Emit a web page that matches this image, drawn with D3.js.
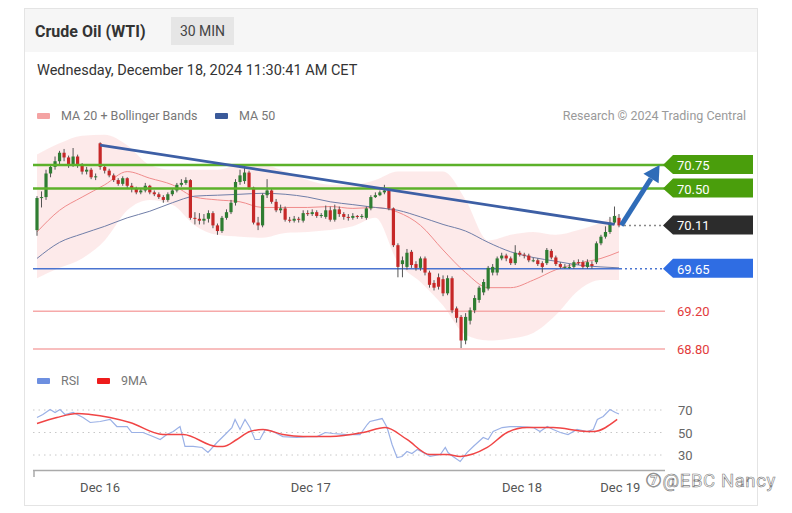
<!DOCTYPE html>
<html>
<head>
    <title>Crude Oil (WTI) 30 MIN</title>
    <script src="https://cdn.jsdelivr.net/npm/d3@7"></script>
    <style>
        body { margin: 0; background: #fff; font-family: Roboto, 'Liberation Sans', Arial, sans-serif; }
        svg { display: block; }
    </style>
</head>
<body>
    <svg width="792" height="513" id="mainsvg"></svg>
    <script>
        // candles [open, high, low, close], 30 min bars
        const candles = [
            [70.06,70.42,70.00,70.40],[70.40,70.47,70.30,70.41],[70.41,70.70,70.38,70.66],[70.66,70.76,70.62,70.73],
            [70.73,70.84,70.70,70.79],[70.79,70.90,70.76,70.88],[70.88,70.92,70.79,70.83],[70.83,70.85,70.72,70.75],
            [70.75,70.93,70.73,70.84],[70.84,70.86,70.72,70.75],[70.75,70.77,70.65,70.68],[70.68,70.73,70.65,70.70],
            [70.70,70.72,70.60,70.62],[70.62,70.66,70.59,70.63],[70.98,70.99,70.70,70.73],[70.73,70.75,70.66,70.69],
            [70.69,70.71,70.62,70.64],[70.64,70.66,70.57,70.59],[70.59,70.61,70.53,70.55],[70.55,70.63,70.53,70.61],
            [70.61,70.62,70.50,70.53],[70.53,70.56,70.46,70.50],[70.50,70.52,70.44,70.46],[70.46,70.50,70.44,70.48],
            [70.48,70.56,70.46,70.53],[70.53,70.54,70.44,70.46],[70.46,70.48,70.42,70.44],[70.44,70.46,70.39,70.41],
            [70.41,70.43,70.35,70.38],[70.38,70.46,70.36,70.44],[70.44,70.50,70.42,70.48],[70.48,70.56,70.46,70.54],
            [70.54,70.60,70.52,70.56],[70.56,70.62,70.54,70.59],[70.59,70.60,70.17,70.19],[70.19,70.25,70.12,70.18],
            [70.18,70.24,70.12,70.16],[70.16,70.23,70.12,70.18],[70.18,70.27,70.14,70.24],[70.24,70.26,70.08,70.11],
            [70.11,70.13,70.01,70.05],[70.05,70.21,70.03,70.19],[70.19,70.28,70.17,70.25],[70.25,70.38,70.23,70.35],
            [70.35,70.60,70.32,70.57],[70.57,70.70,70.54,70.64],[70.58,70.74,70.55,70.67],[70.67,70.69,70.49,70.51],
            [70.51,70.52,70.12,70.14],[70.14,70.20,70.06,70.11],[70.11,70.45,70.09,70.43],[70.43,70.60,70.40,70.48],
            [70.48,70.50,70.34,70.36],[70.36,70.39,70.25,70.27],[70.27,70.33,70.24,70.29],[70.29,70.31,70.15,70.17],
            [70.17,70.20,70.14,70.16],[70.16,70.21,70.14,70.18],[70.18,70.20,70.14,70.17],[70.16,70.27,70.14,70.24],
            [70.24,70.27,70.21,70.23],[70.23,70.28,70.21,70.25],[70.25,70.27,70.19,70.21],[70.21,70.24,70.19,70.22],
            [70.20,70.32,70.18,70.27],[70.27,70.31,70.15,70.17],[70.17,70.33,70.15,70.28],[70.28,70.31,70.20,70.23],
            [70.23,70.25,70.17,70.20],[70.20,70.23,70.16,70.19],[70.19,70.24,70.17,70.21],[70.21,70.22,70.18,70.20],
            [70.20,70.23,70.18,70.21],[70.19,70.31,70.17,70.29],[70.29,70.43,70.27,70.41],[70.41,70.46,70.40,70.43],
            [70.43,70.48,70.42,70.46],[70.46,70.54,70.44,70.48],[70.48,70.49,70.27,70.29],[70.29,70.30,69.88,69.90],
            [69.90,69.92,69.56,69.67],[69.70,69.78,69.56,69.74],[69.67,69.86,69.64,69.82],[69.83,69.85,69.66,69.69],
            [69.70,69.73,69.63,69.66],[69.66,69.78,69.63,69.76],[69.76,69.78,69.58,69.61],[69.61,69.63,69.45,69.48],
            [69.50,69.53,69.42,69.45],[69.56,69.60,69.43,69.46],[69.54,69.58,69.36,69.39],[69.39,69.58,69.37,69.55],
            [69.55,69.57,69.18,69.21],[69.23,69.25,69.08,69.13],[69.14,69.16,68.81,68.89],[68.89,69.18,68.85,69.14],
            [69.10,69.24,69.06,69.21],[69.21,69.37,69.18,69.34],[69.32,69.47,69.29,69.45],[69.40,69.54,69.37,69.51],
            [69.44,69.68,69.42,69.66],[69.61,69.70,69.58,69.67],[69.61,69.78,69.58,69.76],[69.76,69.82,69.74,69.79],
            [69.79,69.81,69.73,69.76],[69.76,69.78,69.69,69.71],[69.71,69.90,69.69,69.82],[69.82,69.84,69.78,69.80],
            [69.80,69.82,69.76,69.79],[69.79,69.81,69.72,69.74],[69.74,69.77,69.72,69.74],[69.74,69.76,69.68,69.70],
            [69.71,69.73,69.61,69.67],[69.71,69.87,69.69,69.85],[69.84,69.86,69.75,69.77],[69.77,69.79,69.68,69.70],
            [69.70,69.72,69.65,69.67],[69.67,69.70,69.65,69.67],[69.67,69.70,69.65,69.67],[69.67,69.74,69.65,69.72],
            [69.72,69.75,69.69,69.71],[69.72,69.74,69.65,69.67],[69.67,69.75,69.65,69.72],[69.70,69.73,69.65,69.68],
            [69.72,69.94,69.70,69.92],[69.92,70.01,69.90,69.99],[69.99,70.10,69.97,70.04],[70.04,70.20,70.02,70.14],
            [70.14,70.31,70.12,70.21],[70.19,70.23,70.09,70.11]
        ];

        // indicators: [bar index, value]
        const ma20 = [[0,70.04],[5,70.27],[10,70.41],[15,70.54],[20,70.68],[25,70.61],[30,70.54],[35,70.41],[40,70.38],
            [45,70.36],[50,70.30],[55,70.30],[60,70.30],[65,70.31],[70,70.29],[75,70.30],[80,70.25],[85,70.11],
            [90,69.85],[95,69.61],[100,69.45],[105,69.45],[110,69.53],[115,69.64],[120,69.71],[125,69.76],[129,69.83]];
        const ma50 = [[0,69.76],[5,69.93],[10,70.02],[15,70.10],[20,70.19],[25,70.26],[30,70.35],[35,70.42],[40,70.43],
            [45,70.44],[50,70.45],[55,70.44],[60,70.41],[65,70.36],[70,70.33],[75,70.30],[80,70.27],[85,70.20],
            [90,70.12],[95,70.05],[100,69.93],[105,69.83],[110,69.77],[115,69.73],[120,69.69],[125,69.67],[129,69.66]];
        const bbUpper = [[0,70.86],[5,70.98],[10,71.06],[15,71.07],[20,70.96],[25,70.75],[30,70.70],[35,70.70],[40,70.70],
            [45,70.75],[50,70.75],[55,70.68],[60,70.59],[65,70.54],[70,70.54],[75,70.59],[80,70.68],[85,70.68],
            [90,70.68],[95,70.38],[100,69.95],[105,70.01],[110,70.04],[115,70.01],[120,70.06],[125,70.14],[129,70.23]];
        const bbLower = [[0,69.55],[5,69.66],[10,69.76],[15,69.95],[20,70.27],[25,70.38],[30,70.33],[35,70.11],[40,70.01],
            [45,69.99],[50,69.98],[55,70.03],[60,70.04],[65,70.06],[70,70.10],[75,70.19],[80,69.72],[85,69.51],
            [90,69.26],[95,68.95],[100,68.89],[105,68.91],[110,68.97],[115,69.16],[120,69.42],[125,69.53],[129,69.53]];

        const rsi = [[0,63.3],[1.3,66],[2.9,70.4],[4,67.8],[5.1,70.4],[6.2,66],[8,67.8],[10.2,63.3],[11.8,58.9],[14,59.8],
            [16.2,61.6],[17.7,55.3],[20,55.3],[21,50],[23.5,50],[25.7,46.4],[27.3,43.8],[28.8,48.2],[30.2,50.9],[31.7,55.3],
            [32.8,37.6],[34.6,37.6],[36.6,36.7],[37.9,32.2],[39.9,41.1],[41.7,48.2],[43.2,54.4],[43.9,61.6],[45,52.7],
            [46.1,61.6],[47.2,54.4],[48.3,43.8],[49.4,43.8],[50.6,52.7],[52.3,50.9],[54.5,46.4],[57.6,45.6],[59.9,46.4],
            [62.1,46.4],[63.9,50],[65.6,49.1],[68.7,48.2],[71.6,48.2],[73.2,57.1],[73.8,59.8],[76.5,62.4],[77.6,54.4],
            [78.7,39.3],[79.8,27.8],[80.9,28.7],[82,33.1],[83.1,31.3],[84.3,34.9],[85.6,32.2],[87.1,28.7],[89.4,30.4],
            [90.5,36.7],[91.1,32.2],[92.2,28.7],[93.8,24.2],[95.3,32.2],[96.7,37.6],[98.9,45.6],[100,43.8],[101.1,50.9],
            [103.1,54.4],[104.9,55.3],[107.1,55.3],[110,54.4],[111.5,50.9],[113.1,55.3],[114.4,52.7],[116,50],[117.7,48.2],
            [119.7,52.7],[121.9,50.9],[123.3,52.7],[124.2,61.6],[125.5,64.2],[127,70.4],[128.2,67.8],[129,66.5]];
        const rsiMA = [[0,58],[4.4,63.3],[8.9,66.9],[11.8,66],[20.6,58.9],[27.9,48.2],[32.4,48.2],[39.9,37.6],[41.2,37.6],
            [44.3,43.8],[47.2,50.9],[50.1,52.7],[54.5,48.2],[59,46.4],[65,46.4],[72.3,50],[77.2,54.4],[82,43.8],[87.1,30.4],
            [90.9,30.4],[93.8,28.7],[99.8,36.7],[104.2,50],[108.6,54.4],[114.4,54.4],[121.9,50.9],[123.3,50.9],[128.6,61.6]];

        // key levels
        const resistances = [70.75, 70.50];
        const pivot = 69.65;
        const supports = [69.20, 68.80];
        const lastPrice = 70.11;
        const trendLine = [[14, 70.96], [128, 70.12]];
        const arrowPath = [[129.5, 70.11], [138, 70.75]];
        const rsiLevels = [70, 50, 30];
        const dayTicks = [['Dec 16', 14], ['Dec 17', 60.7], ['Dec 18', 107.5], ['Dec 19', 129.3]];

        const svg = d3.select('#mainsvg');
        const font = "Roboto, 'Liberation Sans', Arial, sans-serif";

        // card + header
        svg.append('rect').attr('x', 24.5).attr('y', 8.5).attr('width', 733).attr('height', 497)
            .attr('fill', '#fff').attr('stroke', '#e4e4e4');
        svg.append('rect').attr('x', 25).attr('y', 9).attr('width', 732).attr('height', 43).attr('fill', '#f6f6f6');
        svg.append('text').attr('x', 35).attr('y', 37).attr('font-family', font).attr('font-size', 16)
            .attr('font-weight', 'bold').attr('fill', '#333').text('Crude Oil (WTI)');
        svg.append('rect').attr('x', 171).attr('y', 17).attr('width', 63).attr('height', 28).attr('fill', '#e6e6e6');
        svg.append('text').attr('x', 202.5).attr('y', 36).attr('text-anchor', 'middle').attr('font-family', font)
            .attr('font-size', 14).attr('fill', '#444').text('30 MIN');
        svg.append('text').attr('x', 37).attr('y', 75).attr('font-family', font).attr('font-size', 14.5)
            .attr('fill', '#333').text('Wednesday, December 18, 2024 11:30:41 AM CET');

        // legend
        const legend = (x, color, label) => {
            svg.append('rect').attr('x', x).attr('y', 113).attr('width', 13).attr('height', 6).attr('rx', 1).attr('fill', color);
            svg.append('text').attr('x', x + 24).attr('y', 120).attr('font-family', font).attr('font-size', 12.5)
                .attr('fill', '#777').text(label);
        };
        legend(37, '#f4a3a3', 'MA 20 + Bollinger Bands');
        legend(215, '#3b5a9a', 'MA 50');
        svg.append('text').attr('x', 746).attr('y', 120).attr('text-anchor', 'end').attr('font-family', font)
            .attr('font-size', 12.5).attr('fill', '#9a9a9a').text('Research \u00a9 2024 Trading Central');

        const x = d3.scaleLinear().domain([0, candles.length - 1]).range([37, 619]);
        const y = d3.scaleLinear().domain([68.80, 70.75]).range([349, 165]);
        const left = 33, right = 665;

        // bollinger band
        svg.append('path').datum(d3.range(bbUpper.length))
            .attr('fill', '#fde6e6').attr('opacity', 0.85)
            .attr('d', d3.area().curve(d3.curveMonotoneX)
                .x(i => x(bbUpper[i][0])).y0(i => y(bbLower[i][1])).y1(i => y(bbUpper[i][1])));

        const line = d3.line().curve(d3.curveMonotoneX).x(d => x(d[0])).y(d => y(d[1]));
        svg.append('path').datum(ma20).attr('d', line).attr('fill', 'none').attr('stroke', '#f08c8c').attr('stroke-width', 1);
        svg.append('path').datum(ma50).attr('d', line).attr('fill', 'none').attr('stroke', '#707ea8').attr('stroke-width', 1);

        // support lines
        supports.forEach(v => {
            svg.append('line').attr('x1', left).attr('x2', right).attr('y1', y(v)).attr('y2', y(v))
                .attr('stroke', '#f6a9a9').attr('stroke-width', 1.5);
            svg.append('text').attr('x', 677).attr('y', y(v) + 5).attr('font-family', font).attr('font-size', 13)
                .attr('fill', '#e23b3b').text(v.toFixed(2));
        });

        // pivot
        svg.append('line').attr('x1', left).attr('x2', 620).attr('y1', y(pivot)).attr('y2', y(pivot))
            .attr('stroke', '#4a74d0').attr('stroke-width', 1.5);
        svg.append('line').attr('x1', 620).attr('x2', right).attr('y1', y(pivot)).attr('y2', y(pivot))
            .attr('stroke', '#4a74d0').attr('stroke-width', 1.5).attr('stroke-dasharray', '2,3');

        // candles
        const g = svg.append('g');
        candles.forEach((c, i) => {
            const [o, h, l, cl] = c;
            const up = cl >= o;
            const col = up ? '#2f7d32' : '#c62828';
            g.append('line').attr('x1', x(i)).attr('x2', x(i)).attr('y1', y(h)).attr('y2', y(l))
                .attr('stroke', '#555').attr('stroke-width', 1);
            const top = y(Math.max(o, cl)), bot = y(Math.min(o, cl));
            g.append('rect').attr('x', x(i) - 1.6).attr('width', 3.2).attr('y', top)
                .attr('height', Math.max(1, bot - top)).attr('fill', col);
        });

        // resistance lines
        resistances.forEach(v => {
            svg.append('line').attr('x1', left).attr('x2', right).attr('y1', y(v)).attr('y2', y(v))
                .attr('stroke', '#5cb12a').attr('stroke-width', 2.5);
        });

        // trend line
        svg.append('path').datum(trendLine).attr('d', d3.line().x(d => x(d[0])).y(d => y(d[1])))
            .attr('stroke', '#3d5fa5').attr('stroke-width', 2.8).attr('fill', 'none');

        // last price dotted
        svg.append('line').attr('x1', 624).attr('x2', right).attr('y1', y(lastPrice)).attr('y2', y(lastPrice))
            .attr('stroke', '#888').attr('stroke-width', 1.5).attr('stroke-dasharray', '2,3');

        // arrow
        const ax0 = x(arrowPath[0][0]), ay0 = y(arrowPath[0][1]);
        const ax1 = x(arrowPath[1][0]), ay1 = y(arrowPath[1][1]);
        const ang = Math.atan2(ay1 - ay0, ax1 - ax0);
        const headLen = 16, headW = 9;
        const bx = ax1 - headLen * Math.cos(ang), by = ay1 - headLen * Math.sin(ang);
        svg.append('line').attr('x1', ax0).attr('y1', ay0).attr('x2', bx).attr('y2', by)
            .attr('stroke', '#2f6cb8').attr('stroke-width', 5);
        svg.append('polygon').attr('fill', '#2f6cb8').attr('points', [
            [ax1, ay1],
            [bx + headW * Math.sin(ang), by - headW * Math.cos(ang)],
            [bx - headW * Math.sin(ang), by + headW * Math.cos(ang)]
        ].map(p => p.join(',')).join(' '));

        // price tags
        const tag = (v, fill) => {
            const yy = y(v);
            svg.append('polygon').attr('fill', fill).attr('points',
                `663,${yy} 673,${yy - 10} 753,${yy - 10} 753,${yy + 9} 673,${yy + 9}`);
            svg.append('text').attr('x', 677).attr('y', yy + 5).attr('font-family', font).attr('font-size', 13)
                .attr('fill', '#fff').text(v.toFixed(2));
        };
        resistances.forEach(v => tag(v, '#4a9e0c'));
        tag(lastPrice, '#2c2c2c');
        tag(pivot, '#2f6de3');

        // RSI panel
        svg.append('rect').attr('x', 37).attr('y', 378).attr('width', 13).attr('height', 6).attr('rx', 1).attr('fill', '#6d8fe0');
        svg.append('text').attr('x', 61).attr('y', 385).attr('font-family', font).attr('font-size', 12.5).attr('fill', '#777').text('RSI');
        svg.append('rect').attr('x', 97).attr('y', 378).attr('width', 13).attr('height', 6).attr('rx', 1).attr('fill', '#ee1c1c');
        svg.append('text').attr('x', 121).attr('y', 385).attr('font-family', font).attr('font-size', 12.5).attr('fill', '#777').text('9MA');

        const ry = d3.scaleLinear().domain([30, 70]).range([455, 410]);
        rsiLevels.forEach(v => {
            svg.append('line').attr('x1', left).attr('x2', right).attr('y1', ry(v)).attr('y2', ry(v))
                .attr('stroke', '#c8c8c8').attr('stroke-width', 1).attr('stroke-dasharray', '1.5,4');
            svg.append('text').attr('x', 678).attr('y', ry(v) + 5).attr('font-family', font).attr('font-size', 13)
                .attr('fill', '#666').text(v);
        });
        const rline = d3.line().curve(d3.curveLinear).x(d => x(d[0])).y(d => ry(d[1]));
        svg.append('path').datum(rsi).attr('d', rline).attr('fill', 'none').attr('stroke', '#9bb1e6').attr('stroke-width', 1.2);
        svg.append('path').datum(rsiMA).attr('d', rline.curve(d3.curveMonotoneX)).attr('fill', 'none')
            .attr('stroke', '#f04545').attr('stroke-width', 1.5);

        // x axis
        svg.append('line').attr('x1', left).attr('x2', right).attr('y1', 470.5).attr('y2', 470.5)
            .attr('stroke', '#aaa').attr('stroke-width', 1.5);
        svg.append('line').attr('x1', left + 1).attr('x2', left + 1).attr('y1', 470).attr('y2', 477)
            .attr('stroke', '#aaa').attr('stroke-width', 1.5);
        dayTicks.forEach(([lab, i]) => {
            svg.append('text').attr('x', x(i)).attr('y', 492).attr('text-anchor', 'middle').attr('font-family', font)
                .attr('font-size', 13).attr('fill', '#555').text(lab);
        });

        // watermark
        svg.append('text').attr('x', 645).attr('y', 487).attr('font-family', font).attr('font-size', 18.5)
            .attr('letter-spacing', 0.6)
            .attr('fill', '#fff').attr('stroke', '#7a7a7a').attr('stroke-width', 0.6)
            .text('\u2466@EBC  Nancy');
    </script>
</body>
</html>
